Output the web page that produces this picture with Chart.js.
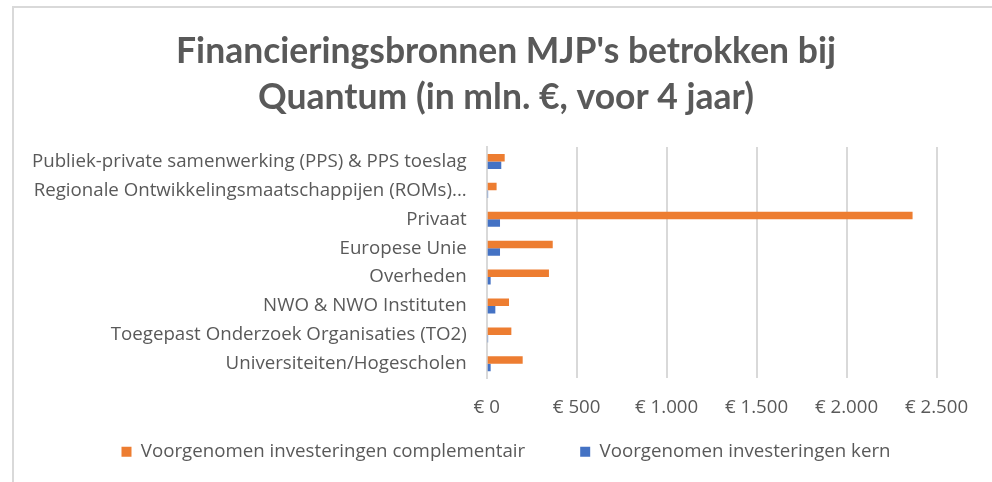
<!DOCTYPE html>
<html>
<head>
<meta charset="utf-8">
<script src="https://cdn.jsdelivr.net/npm/chart.js@4.4.1/dist/chart.umd.min.js"></script>
<style>
  html, body { margin: 0; padding: 0; background: #fff; overflow: hidden; }
  #wrap { position: relative; width: 992px; height: 482px; overflow: hidden; }
  #frame { position: absolute; left: 12px; top: 6px; width: 1000px; height: 500px;
           border-left: 2px solid #d9d9d9; border-top: 2px solid #d9d9d9; box-sizing: border-box; }
  canvas { position: absolute; left: 0; top: 0; }
</style>
</head>
<body>
<div id="wrap">
  <div id="frame"></div>
  <canvas id="c" width="1000" height="482"></canvas>
</div>
<script>
// Funding sources for the quantum multi-year programmes (million €, 4 years)
const categories = [
  'Publiek-private samenwerking (PPS) & PPS toeslag',
  'Regionale Ontwikkelingsmaatschappijen (ROMs)...',
  'Privaat',
  'Europese Unie',
  'Overheden',
  'NWO & NWO Instituten',
  'Toegepast Onderzoek Organisaties (TO2)',
  'Universiteiten/Hogescholen'
];
const complementair = [100, 55, 2367, 367, 346, 124, 137, 200];
const kern = [81, 8, 74, 74, 22, 48, 8, 22];
const seriesNames = ['Voorgenomen investeringen complementair', 'Voorgenomen investeringen kern'];
const titleLines = ["Financieringsbronnen MJP's betrokken bij", 'Quantum (in mln. €, voor 4 jaar)'];
const xTicks = [0, 500, 1000, 1500, 2000, 2500];

const grey = '#595959';
const labelFont = { family: '"Open Sans", Lato, sans-serif', size: 18.7 };

function euro(v) {
  const s = String(Math.round(v)).replace(/\B(?=(\d{3})+(?!\d))/g, '.');
  return '€ ' + s;
}

new Chart(document.getElementById('c'), {
  type: 'bar',
  data: {
    labels: categories,
    datasets: [
      { label: seriesNames[0], data: complementair, backgroundColor: '#ED7D31' },
      { label: seriesNames[1], data: kern, backgroundColor: '#4472C4' }
    ]
  },
  options: {
    indexAxis: 'y',
    responsive: false,
    animation: false,
    devicePixelRatio: 1,
    layout: { padding: { top: 0, left: 14, right: 2, bottom: 11 } },
    datasets: { bar: { categoryPercentage: 0.52, barPercentage: 1.0 } },
    plugins: {
      tooltip: { enabled: false },
      title: {
        display: true,
        text: titleLines,
        color: grey,
        font: { family: 'Lato, "Open Sans", sans-serif', size: 35.5, weight: 'bold', lineHeight: '46px' },
        padding: { top: 29, bottom: 26 }
      },
      legend: {
        position: 'bottom',
        labels: {
          color: grey,
          font: labelFont,
          boxWidth: 10,
          boxHeight: 10,
          padding: 55
        }
      }
    },
    scales: {
      x: {
        min: 0,
        max: 2500,
        afterBuildTicks: (axis) => { axis.ticks = xTicks.map(v => ({ value: v })); },
        ticks: { color: grey, font: labelFont, padding: 18, callback: (v) => euro(v) },
        grid: { color: '#d9d9d9', lineWidth: 2, drawTicks: false },
        border: { display: false },
        // the legend's item spacing already reserves room below the tick labels,
        // so the axis box stays thin and its labels are drawn without clipping
        afterFit: (axis) => {
          axis.height = 9;
          axis._computeLabelArea = () => undefined;
        }
      },
      y: {
        ticks: { color: grey, font: labelFont, padding: 20, autoSkip: false },
        grid: { display: false, drawTicks: false },
        border: { display: true, color: '#d9d9d9', width: 2 },
        afterFit: (axis) => { axis.width = 472.7; }
      },
      // empty margin on the right of the plot, leaving room for the last tick label
      yRight: {
        type: 'category',
        position: 'right',
        ticks: { display: false },
        grid: { display: false, drawTicks: false },
        border: { display: false },
        afterFit: (axis) => { axis.width = 61.5; }
      }
    }
  }
});
</script>
</body>
</html>
